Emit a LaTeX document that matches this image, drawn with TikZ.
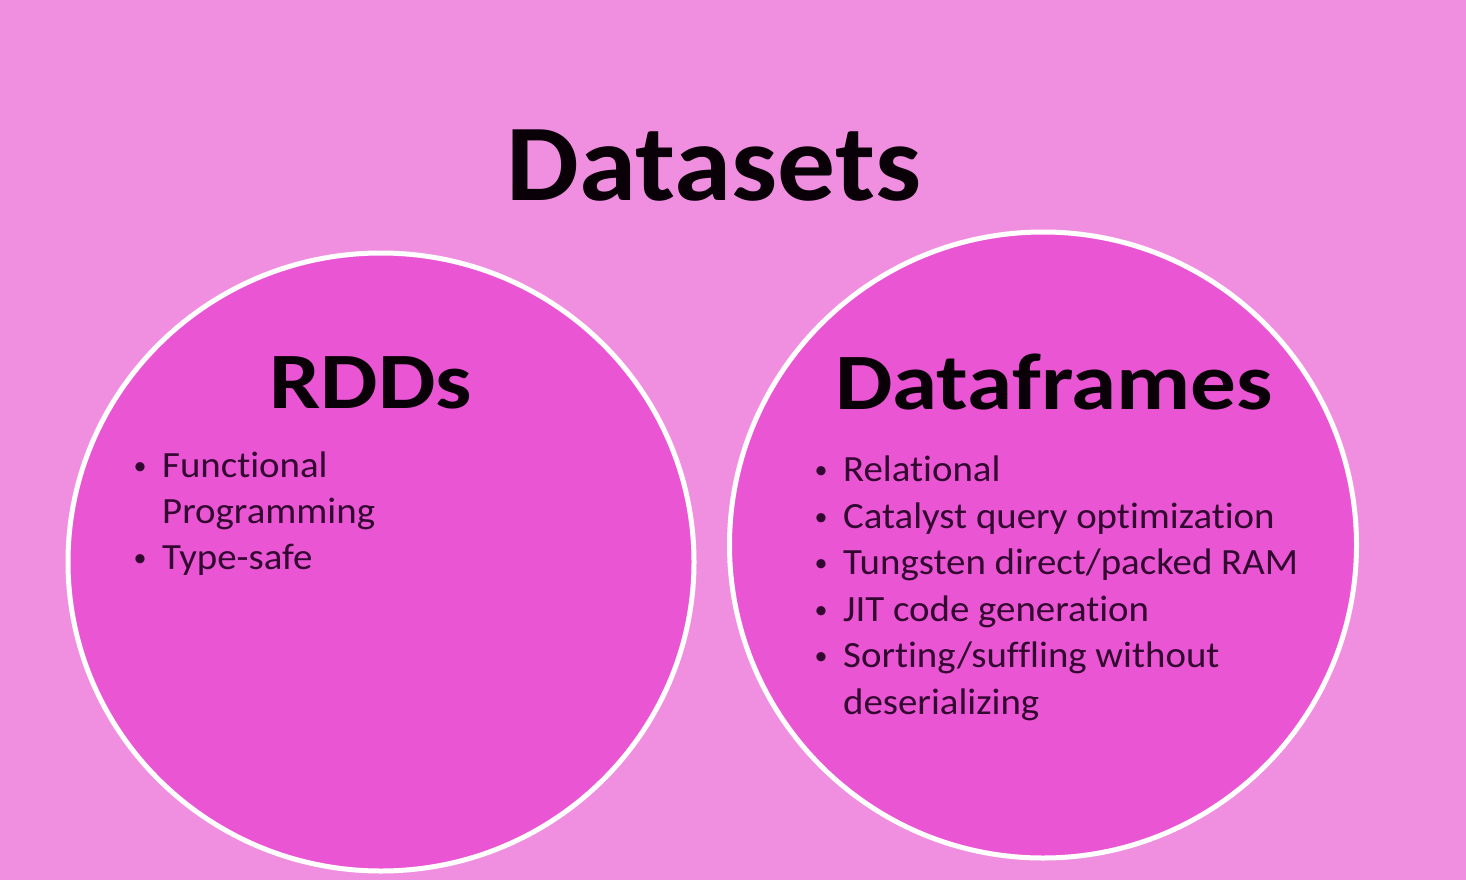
\documentclass[tikz,border=0pt]{standalone}
\usepackage{fontspec}
\setmainfont{Carlito}[RawFeature=-liga]
\newfontfamily\datasetsfont{Carlito}[RawFeature=-liga, FakeStretch=1.06]
\newfontfamily\subtitlefont{Carlito}[RawFeature=-liga, FakeStretch=1.14]
\newfontfamily\itemfont{Carlito}[RawFeature=-liga, FakeStretch=1.05]
\usetikzlibrary{shapes.geometric}
\definecolor{bgpink}{RGB}{240,143,224}
\definecolor{circfill}{RGB}{234,85,212}
\definecolor{itemcol}{RGB}{50,8,48}
\definecolor{titlecol}{RGB}{10,0,8}
\tikzset{
  bubble/.style={ellipse, draw=white, line width=5pt, fill=circfill, inner sep=0pt},
  bigtitle/.style={font=\datasetsfont\fontsize{109}{120}\selectfont\bfseries, text=titlecol, anchor=base, inner sep=0pt},
  subtitle/.style={font=\subtitlefont\fontsize{80}{90}\selectfont\bfseries, text=titlecol, anchor=base, inner sep=0pt},
  itemtext/.style={font=\itemfont\fontsize{37}{44}\selectfont, text=itemcol, anchor=base west, inner sep=0pt},
  bulletmark/.style={font=\fontsize{26}{30}\selectfont, text=itemcol, anchor=base, inner sep=0pt}
}
\begin{document}
\begin{tikzpicture}[x=1pt,y=-1pt]
\fill[bgpink] (0,0) rectangle (1466,880);
\useasboundingbox (0,0) rectangle (1466,880);
\node[bubble, minimum width=626pt, minimum height=618pt] (rddc) at (381,562) {};
\node[bubble, minimum width=627pt, minimum height=626pt] (dfc) at (1043,545) {};
\node[bigtitle] (ds) at (714,200) {Datasets};
\node[subtitle] (rdd) at (371,408) {RDDs};
\node[subtitle] (df) at (1054,409) {Dataframes};
% left list
\node[bulletmark] (lb1) at (140,474) {•};
\node[itemtext] (l1) at (162,477) {Functional};
\node[itemtext] (l1b) at (162,523) {Programming};
\node[bulletmark] (lb2) at (140,566) {•};
\node[itemtext] (l2) at (162,569) {Type-safe};
% right list
\node[bulletmark] (rb1) at (821,478) {•};
\node[itemtext] (r1) at (843,481) {Relational};
\node[bulletmark] (rb2) at (821,525) {•};
\node[itemtext] (r2) at (843,528) {Catalyst query optimization};
\node[bulletmark] (rb3) at (821,571) {•};
\node[itemtext] (r3) at (843,574) {Tungsten direct/packed RAM};
\node[bulletmark] (rb4) at (821,618) {•};
\node[itemtext] (r4) at (843,621) {JIT code generation};
\node[bulletmark] (rb5) at (821,664) {•};
\node[itemtext] (r5) at (843,667) {Sorting/suffling without};
\node[itemtext] (r5b) at (843,714) {deserializing};
\end{tikzpicture}
\end{document}
